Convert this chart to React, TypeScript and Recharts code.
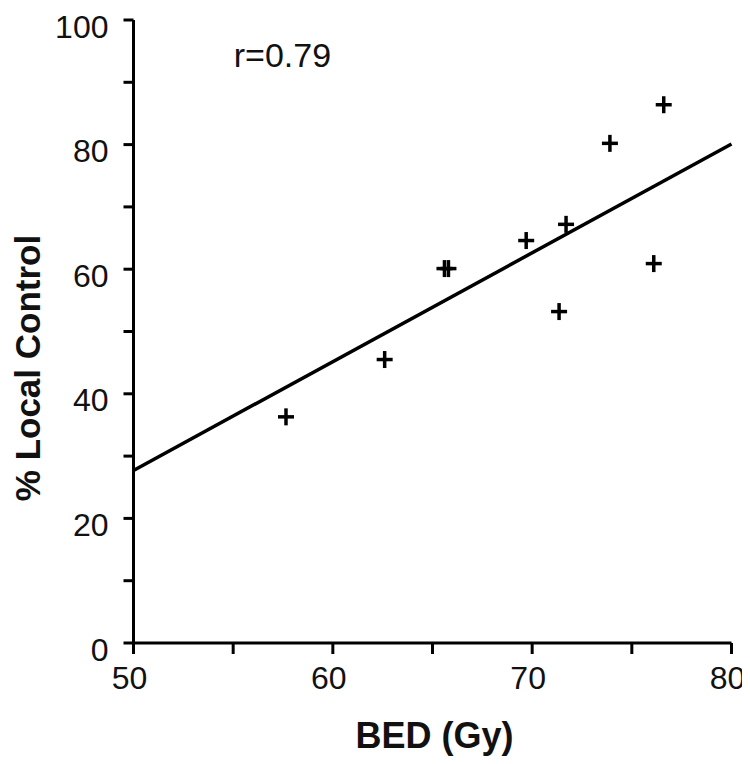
import React from 'react';
import { ScatterChart, Scatter, XAxis, YAxis, ReferenceLine, ReferenceDot } from 'recharts';

const bedValues = [57.65, 62.6, 65.6, 65.8, 69.7, 71.35, 71.7, 73.9, 76.1, 76.6];
const localControl = [36.3, 45.5, 60.1, 60.1, 64.6, 53.2, 67.2, 80.2, 60.9, 86.4];
const fitX = [50, 80];
const fitY = [27.7, 80.1];
const xTicks = [50, 55, 60, 65, 70, 75, 80];
const yTicks = [0, 10, 20, 30, 40, 50, 60, 70, 80, 90, 100];
const xLabeled = [50, 60, 70, 80];
const yLabeled = [0, 20, 40, 60, 80, 100];
const annotation = { x: 57.47, y: 94.4, text: 'r=0.79' };

const points = bedValues.map((x, i) => ({ x, y: localControl[i] }));

const FONT = '"Liberation Sans", Arial, Helvetica, sans-serif';

const Plus = (props: any) => {
  const { cx, cy } = props;
  if (cx == null || cy == null) return null;
  return (
    <g>
      <line x1={cx - 8} x2={cx + 8} y1={cy} y2={cy} stroke="#000" strokeWidth={3.5} />
      <line x1={cx} x2={cx} y1={cy - 8.5} y2={cy + 8.5} stroke="#000" strokeWidth={3.5} />
    </g>
  );
};

const XTick = (props: any) => {
  const { x, y, payload } = props;
  if (!xLabeled.includes(payload.value)) return null;
  return (
    <text x={x - 4} y={y + 35} textAnchor="middle" fontSize={32} fontFamily={FONT} fill="#111">
      {payload.value}
    </text>
  );
};

const YTick = (props: any) => {
  const { x, y, payload } = props;
  if (!yLabeled.includes(payload.value)) return null;
  return (
    <text x={x} y={y + 17.5} textAnchor="end" fontSize={32} fontFamily={FONT} fill="#111">
      {payload.value}
    </text>
  );
};

export default function App() {
  return (
    <div style={{ background: '#fff', width: 742, height: 748 }}>
      <ScatterChart
        width={742}
        height={748}
        margin={{ top: 12, right: 18.5, bottom: 0, left: 15.5 }}
      >
        <XAxis
          type="number"
          dataKey="x"
          domain={[50, 80]}
          ticks={xTicks}
          interval={0}
          height={113}
          tickSize={11}
          tickMargin={0}
          axisLine={{ stroke: '#000', strokeWidth: 3 }}
          tickLine={{ stroke: '#000', strokeWidth: 3 }}
          tick={<XTick />}
          label={{
            content: (p: any) => {
              const vb = p.viewBox;
              return (
                <text
                  x={vb.x + vb.width / 2 + 2}
                  y={vb.y + 105}
                  textAnchor="middle"
                  fontSize={36}
                  fontWeight="bold"
                  fontFamily={FONT}
                  fill="#111"
                >
                  BED (Gy)
                </text>
              );
            },
          }}
        />
        <YAxis
          type="number"
          dataKey="y"
          domain={[0, 100]}
          ticks={yTicks}
          interval={0}
          width={110}
          tickSize={10}
          tickMargin={15}
          axisLine={{ stroke: '#000', strokeWidth: 3 }}
          tickLine={{ stroke: '#000', strokeWidth: 3 }}
          tick={<YTick />}
          label={{
            content: (p: any) => {
              const vb = p.viewBox;
              const cy = vb.y + vb.height / 2 + 36.5;
              const cx = 32;
              return (
                <text
                  transform={`translate(${cx}, ${cy}) rotate(-90)`}
                  textAnchor="middle"
                  fontSize={35}
                  fontWeight="bold"
                  fontFamily={FONT}
                  fill="#111"
                >
                  % Local Control
                </text>
              );
            },
          }}
        />
        <ReferenceLine
          segment={[
            { x: fitX[0], y: fitY[0] },
            { x: fitX[1], y: fitY[1] },
          ]}
          stroke="#000"
          strokeWidth={3.5}
          ifOverflow="visible"
        />
        <Scatter data={points} shape={<Plus />} isAnimationActive={false} />
        <ReferenceDot
          x={annotation.x}
          y={annotation.y}
          r={0}
          fill="none"
          stroke="none"
          label={{
            content: (p: any) => {
              const vb = p.viewBox;
              return (
                <text
                  x={vb.x + (vb.width || 0) / 2}
                  y={vb.y + (vb.height || 0) / 2 + 12}
                  textAnchor="middle"
                  fontSize={34}
                  fontFamily={FONT}
                  fill="#111"
                >
                  {annotation.text}
                </text>
              );
            },
          }}
        />
      </ScatterChart>
    </div>
  );
}
